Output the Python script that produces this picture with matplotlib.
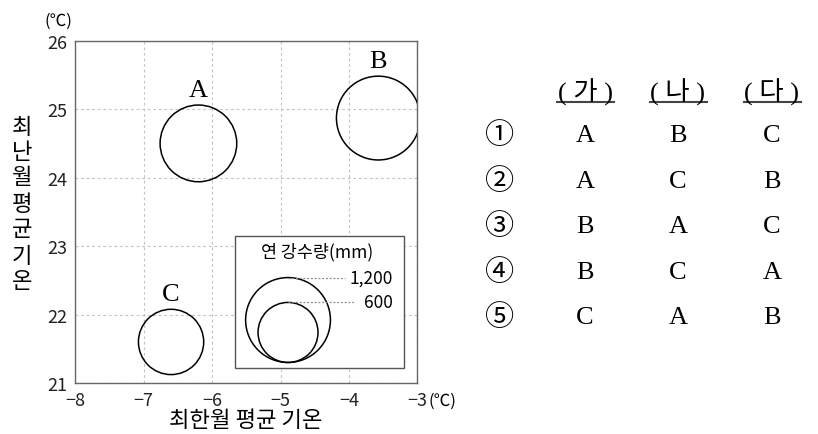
import numpy as np
import matplotlib
matplotlib.use('Agg')
import matplotlib.pyplot as plt
from matplotlib.patches import Circle, Rectangle
from matplotlib.lines import Line2D

plt.rcParams['font.family'] = ['Noto Sans CJK KR', 'DejaVu Sans']

# region data: coldest month mean temp, warmest month mean temp, annual precip (mm)
regions = ['A', 'B', 'C']
cold_temp = [-6.2, -3.57, -6.6]
warm_temp = [24.5, 24.87, 21.6]
precip = [980, 1170, 710]

legend_precip = [1200, 600]
legend_labels = ['1,200', '600']

x_ticks = [-8, -7, -6, -5, -4, -3]
y_ticks = [21, 22, 23, 24, 25, 26]

headers = ['( 가 )', '( 나 )', '( 다 )']
choice_marks = ['①', '②', '③', '④', '⑤']
choices = [('A', 'B', 'C'),
           ('A', 'C', 'B'),
           ('B', 'A', 'C'),
           ('B', 'C', 'A'),
           ('C', 'A', 'B')]

W, H = 818, 435
fig = plt.figure(figsize=(W / 100, H / 100), dpi=100)

def px(x, y):
    return x / W, 1 - y / H

ax = fig.add_axes([75.3 / W, 1 - 384 / H, 342 / W, 342.3 / H])
ax.set_xlim(-8, -3)
ax.set_ylim(21, 26)
ax.set_xticks(x_ticks)
ax.set_yticks(y_ticks)
ax.tick_params(length=0, labelsize=13, pad=6, colors='#222222')
ax.grid(True, color='#c4c4c4', linestyle=(0, (2.5, 2.5)), linewidth=0.8)
ax.set_axisbelow(True)
for s in ax.spines.values():
    s.set_color('#666666')
    s.set_linewidth(1.0)

# radius of a 1200 mm circle in data units, area proportional to precip
r_max = 0.62
def radius(p):
    return r_max * np.sqrt(p / 1200)

for name, cx, cy, p in zip(regions, cold_temp, warm_temp, precip):
    r = radius(p)
    ax.add_patch(Circle((cx, cy), r, fill=False, edgecolor='black', linewidth=1.1, zorder=3))
    ax.text(cx, cy + r + 0.06, name, ha='center', va='bottom', fontsize=19,
            family=['Liberation Serif', 'DejaVu Serif'])

# legend box
ax.add_patch(Rectangle((-5.67, 21.215), 2.47, 1.925, facecolor='white',
                       edgecolor='#555555', linewidth=1.0, zorder=4))
ax.text(-4.47, 22.93, '연 강수량(mm)', ha='center', va='center', fontsize=12.5, zorder=5)
leg_x, leg_bottom = -4.89, 21.30
line_ends = [-4.05, -3.92]
for p, lab, xe in zip(legend_precip, legend_labels, line_ends):
    r = radius(p)
    ax.add_patch(Circle((leg_x, leg_bottom + r), r, fill=False, edgecolor='black',
                        linewidth=1.1, zorder=5))
    ytop = leg_bottom + 2 * r
    ax.plot([leg_x, xe], [ytop, ytop], color='#888888', linestyle=(0, (1.5, 1.5)),
            linewidth=0.9, zorder=5)
    ax.text(-3.35, ytop, lab, ha='right', va='center', fontsize=12.5, zorder=5)

# unit labels
fig.text(*px(58, 21), '(℃)', ha='center', va='center', fontsize=12)
fig.text(*px(428, 401), '(℃)', ha='left', va='center', fontsize=12)

# axis labels
fig.text(*px(246, 421), '최한월 평균 기온', ha='center', va='center', fontsize=16)
# vertical, upright stacked label: one text per word
ylab_words = ['최난월', '평균', '기온']
word_tops = [116, 193, 245]
for w, top in zip(ylab_words, word_tops):
    fig.text(*px(22, top), '\n'.join(w), ha='center', va='top', fontsize=16,
             linespacing=1.12)

# answer table
col_x = [585, 678, 772]
for hx, h in zip(col_x, headers):
    fig.text(*px(hx, 92), h, ha='center', va='center', fontsize=19,
             family=['Liberation Serif', 'Noto Sans CJK KR'])
    x0, y0 = px(hx - 28.5, 103)
    x1, _ = px(hx + 28.5, 103)
    fig.add_artist(Line2D([x0, x1], [y0, y0], color='#444444', linewidth=1.5))

row_y = 136.5
for mark, row in zip(choice_marks, choices):
    fig.text(*px(500, row_y), mark, ha='center', va='center', fontsize=21)
    for cx, letter in zip(col_x, row):
        fig.text(*px(cx, row_y), letter, ha='center', va='center', fontsize=19,
                 family=['Liberation Serif', 'DejaVu Serif'])
    row_y += 45.5

fig.savefig('out.png', dpi=100)
